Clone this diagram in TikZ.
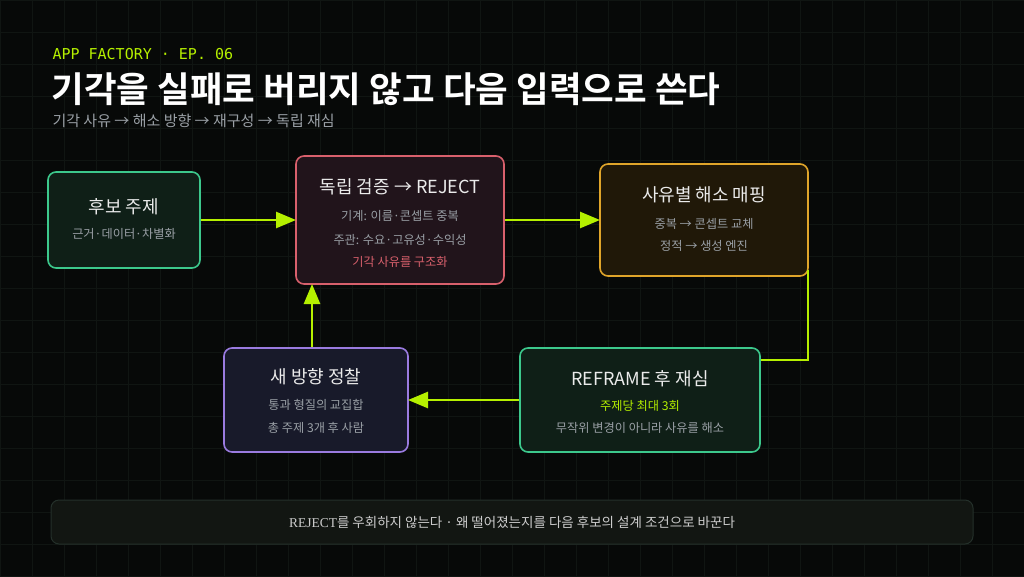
\documentclass[tikz,border=0pt]{standalone}
\usepackage{fontspec}
\setmainfont{Noto Sans CJK KR}
\newfontfamily\monof{DejaVu Sans Mono}
\newfontfamily\krb{Noto Sans CJK KR}[BoldFont={* Bold}]
\newfontfamily\serf{Liberation Serif}
\usetikzlibrary{arrows.meta}
\definecolor{bg}{HTML}{070908}
\definecolor{gridc}{HTML}{101512}
\definecolor{lime}{HTML}{B5F000}
\definecolor{sub}{HTML}{9AA0A6}
\definecolor{gb}{HTML}{3CC88C}\definecolor{gf}{HTML}{0F1F17}
\definecolor{rb}{HTML}{D8606C}\definecolor{rf}{HTML}{21141B}
\definecolor{ob}{HTML}{E0A52A}\definecolor{of}{HTML}{201808}
\definecolor{pb}{HTML}{9A7BE0}\definecolor{pf}{HTML}{181A2A}
\definecolor{barf}{HTML}{121612}\definecolor{barb}{HTML}{24302A}
\tikzset{
 box/.style={draw=#1, line width=1.6pt, rounded corners=8pt},
 ttl/.style={text=white!92!black, font=\fontsize{18}{21}\selectfont},
 st/.style={text=sub, font=\fontsize{12.2}{14}\selectfont},
 conn/.style={draw=lime, line width=2.6pt},
 arr/.style={conn, -{Triangle[length=20pt,width=16pt]}}
}
\begin{document}
\begin{tikzpicture}[x=1pt,y=-1pt]
\fill[bg] (0,0) rectangle (1024,576);
\useasboundingbox (0,0) rectangle (1024,576);
\foreach \i in {0,32,...,1024} \draw[gridc, line width=0.6pt] (\i,0) -- (\i,576);
\foreach \j in {0,32,...,576} \draw[gridc, line width=0.6pt] (0,\j) -- (1024,\j);

\node[anchor=west, text=lime, font=\monof\fontsize{15}{17}\selectfont] (hdr) at (49,54) {APP FACTORY · EP. 06};
\node[anchor=west, text=white, font=\krb\bfseries\fontsize{35.5}{40}\selectfont] (title) at (48,89) {기각을 실패로 버리지 않고 다음 입력으로 쓴다};
\node[anchor=west, text=sub, font=\fontsize{15}{17}\selectfont] (subt) at (49,121) {기각 사유 → 해소 방향 → 재구성 → 독립 재심};

\path[box=gb, fill=gf] (48,172) rectangle (200,268);
\node[ttl] (t1) at (124,207) {후보 주제};
\node[st] (s1) at (124,234) {근거·데이터·차별화};
\path[box=rb, fill=rf] (296,156) rectangle (504,284);
\node[ttl] (t2) at (400,187) {독립 검증 → REJECT};
\node[st] (s2a) at (400,216) {기계: 이름·콘셉트 중복};
\node[st] (s2b) at (400,240) {주관: 수요·고유성·수익성};
\node[st, text=rb] (s2c) at (400,262) {기각 사유를 구조화};
\path[box=ob, fill=of] (600,164) rectangle (808,276);
\node[ttl] (t3) at (704,195) {사유별 해소 매핑};
\node[st] (s3a) at (704,224) {중복 → 콘셉트 교체};
\node[st] (s3b) at (704,246) {정적 → 생성 엔진};
\path[box=pb, fill=pf] (224,348) rectangle (408,452);
\node[ttl] (t4) at (316,377) {새 방향 정찰};
\node[st] (s4a) at (316,405) {통과 형질의 교집합};
\node[st] (s4b) at (316,428) {총 주제 3개 후 사람};
\path[box=gb, fill=gf] (520,348) rectangle (760,452);
\node[ttl] (t5) at (640,379) {REFRAME 후 재심};
\node[st, text=lime] (s5a) at (640,406) {주제당 최대 3회};
\node[st] (s5b) at (640,428) {무작위 변경이 아니라 사유를 해소};

\coordinate (c1) at (201,220); \coordinate (c2) at (296,220);
\coordinate (c3) at (505,220); \coordinate (c4) at (600,220);
\coordinate (c5) at (808,270); \coordinate (c6) at (761,360);
\coordinate (c7) at (519,400); \coordinate (c8) at (408,400);
\coordinate (c9) at (312,347); \coordinate (c10) at (312,284);
\draw[arr] (c1) -- (c2);
\draw[arr] (c3) -- (c4);
\draw[conn] (c5) |- (c6);
\draw[arr] (c7) -- (c8);
\draw[arr] (c9) -- (c10);

\path[draw=barb, fill=barf, line width=1pt, rounded corners=8pt] (51,500) rectangle (973,544);
\node[text=white!80!black, font=\fontsize{13.5}{15}\selectfont] (bar) at (512,522) {{\serf REJECT}를 우회하지 않는다 · 왜 떨어졌는지를 다음 후보의 설계 조건으로 바꾼다};
\end{tikzpicture}
\end{document}
